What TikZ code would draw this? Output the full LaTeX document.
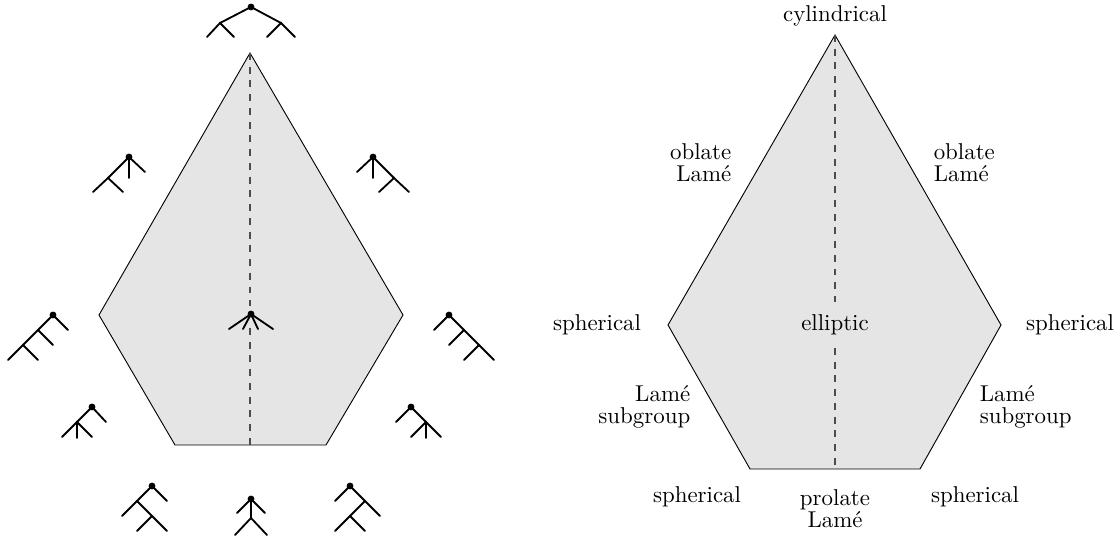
\documentclass[tikz,border=0pt]{standalone}
\usepackage{fontspec}
\begin{document}
\begin{tikzpicture}[x=0.4366pt,y=-0.4366pt,
  treeline/.style={line width=0.8pt,line cap=round},
  rootdot/.style={fill=black},
  poly/.style={fill=black!10,draw=black,line width=0.4pt,line join=miter},
  axis/.style={dashed,draw=black!70,line width=0.5pt},
  lbl/.style={inner sep=1pt}]
\useasboundingbox (0,0) rectangle (1120,540);
% left polygon
\coordinate (lt) at (250,53);
\coordinate (lr) at (403,315);
\coordinate (lbr) at (326,445);
\coordinate (lbl) at (175,445);
\coordinate (ll) at (99,315);
\coordinate (lc) at (250,315);
\coordinate (lb) at (250,445);
\draw[poly] (lt) -- (lr) -- (lbr) -- (lbl) -- (ll) -- cycle;
\draw[axis] (lt) -- (250,306);
\draw[axis] (250,328) -- (lb);
% right polygon
\coordinate (rt) at (835,35);
\coordinate (rr) at (1001,325);
\coordinate (rbr) at (920,469);
\coordinate (rbl) at (750,469);
\coordinate (rl) at (668,325);
\coordinate (rb) at (835,469);
\draw[poly] (rt) -- (rr) -- (rbr) -- (rbl) -- (rl) -- cycle;
\node[lbl] (ell) at (835,325) {elliptic};
\draw[axis] (rt) -- (835,302);
\draw[axis] (835,348) -- (rb);
% right labels
\node[lbl] (cyl) at (835,16) {cylindrical};
\node[lbl,anchor=east,align=right] (obl) at (734,163) {oblate\\[-2.5pt]Lamé};
\node[lbl,anchor=west,align=left] (obr) at (931,163) {oblate\\[-2.5pt]Lamé};
\node[lbl] (sphl) at (597,325) {spherical};
\node[lbl] (sphr) at (1070,325) {spherical};
\node[lbl,anchor=east,align=right] (subl) at (693,407) {Lamé\\[-2.5pt]subgroup};
\node[lbl,anchor=west,align=left] (subr) at (977,407) {Lamé\\[-2.5pt]subgroup};
\node[lbl] (sphbl) at (697,497) {spherical};
\node[lbl] (sphbr) at (975,497) {spherical};
\node[lbl,align=center] (pro) at (835,509) {prolate\\[-2.5pt]Lamé};
% trees
% top
\draw[treeline] (220,23) -- (251,7) -- (281,23);
\draw[treeline] (207,37) -- (220,23) -- (234,37);
\draw[treeline] (267,37) -- (281,23) -- (295,37);
\fill[rootdot] (251,7) circle[radius=1.5pt];
% upper left
\draw[treeline] (108,178) -- (129,157) -- (145,172);
\draw[treeline] (129,157) -- (129,178);
\draw[treeline] (93,192) -- (108,178) -- (123,192);
\fill[rootdot] (129,157) circle[radius=1.5pt];
% upper right
\draw[treeline] (394,178) -- (373,157) -- (357,172);
\draw[treeline] (373,157) -- (373,178);
\draw[treeline] (379,192) -- (394,178) -- (409,192);
\fill[rootdot] (373,157) circle[radius=1.5pt];
% left caterpillar
\draw[treeline] (68,330) -- (53,315) -- (8,360);
\draw[treeline] (38,330) -- (53,345);
\draw[treeline] (23,345) -- (38,360);
\fill[rootdot] (53,315) circle[radius=1.5pt];
% right caterpillar
\draw[treeline] (434,330) -- (449,315) -- (494,360);
\draw[treeline] (464,330) -- (449,345);
\draw[treeline] (479,345) -- (464,360);
\fill[rootdot] (449,315) circle[radius=1.5pt];
% center star
\draw[treeline] (251,314) -- (229,329);
\draw[treeline] (251,314) -- (243,329);
\draw[treeline] (251,314) -- (258,329);
\draw[treeline] (251,314) -- (273,329);
\fill[rootdot] (251,314) circle[radius=1.5pt];
% lower left
\draw[treeline] (106,422) -- (92,407) -- (77,422);
\draw[treeline] (62,437) -- (77,422) -- (92,437);
\draw[treeline] (77,422) -- (77,438);
\fill[rootdot] (92,407) circle[radius=1.5pt];
% lower right
\draw[treeline] (396,422) -- (411,407) -- (426,422);
\draw[treeline] (411,437) -- (426,422) -- (441,437);
\draw[treeline] (426,422) -- (426,438);
\fill[rootdot] (411,407) circle[radius=1.5pt];
% bottom left zigzag
\draw[treeline] (167,501) -- (152,486) -- (122,516);
\draw[treeline] (137,501) -- (167,531);
\draw[treeline] (152,516) -- (137,531);
\fill[rootdot] (152,486) circle[radius=1.5pt];
% bottom right zigzag
\draw[treeline] (335,501) -- (350,486) -- (380,516);
\draw[treeline] (365,501) -- (335,531);
\draw[treeline] (350,516) -- (365,531);
\fill[rootdot] (350,486) circle[radius=1.5pt];
% bottom center
\draw[treeline] (237,513) -- (251,499) -- (265,513);
\draw[treeline] (251,499) -- (251,518);
\draw[treeline] (235,535) -- (251,518) -- (267,535);
\fill[rootdot] (251,499) circle[radius=1.5pt];
\end{tikzpicture}
\end{document}
